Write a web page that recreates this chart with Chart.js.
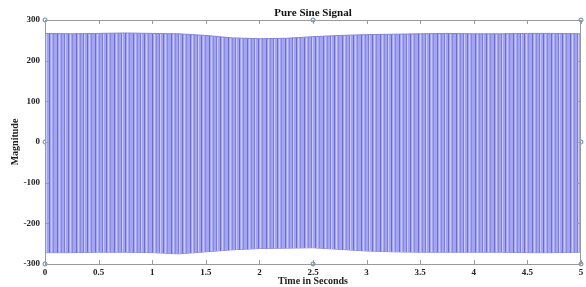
<!DOCTYPE html>
<html>
<head>
  <meta charset="UTF-8">
  <title>Pure Sine Signal</title>
  <script src="https://cdn.jsdelivr.net/npm/chart.js"></script>
  <style>
    body { margin: 0; background: #fff; }
    #wrap { width: 586px; height: 287px; }
  </style>
</head>
<body>
  <div id="wrap"><canvas id="sig"></canvas></div>
  <script>
    // envelope of the dense sine, every 0.25 s
    const timeSec = [0, 0.25, 0.5, 0.75, 1, 1.25, 1.5, 1.75, 2, 2.25, 2.5,
                     2.75, 3, 3.25, 3.5, 3.75, 4, 4.25, 4.5, 4.75, 5];
    const upperPeak = [267, 266, 267, 268, 267, 266, 262, 256, 254, 255, 259,
                       262, 264, 265, 266, 267, 266, 266, 267, 267, 266];
    const lowerPeak = [-272, -272, -271, -271, -272, -275, -270, -265, -262, -261, -260,
                       -264, -268, -270, -271, -271, -271, -271, -272, -272, -271];
    const xTicks = ['0', '0.5', '1', '1.5', '2', '2.5', '3', '3.5', '4', '4.5', '5'];
    const yTicks = ['-300', '-200', '-100', '0', '100', '200', '300'];
    const chartTitle = 'Pure Sine Signal';
    // little selection handles on the axes box
    const handleX = [0, 2.5, 5, 0, 5, 0, 2.5, 5];
    const handleY = [300, 300, 300, 0, 0, -300, -300, -300];

    // striped fill to mimic the aliased oscillation (uneven spacing on purpose)
    function stripes() {
      const c = document.createElement('canvas');
      c.width = 19; c.height = 1;
      const g = c.getContext('2d');
      g.fillStyle = '#a4a4f4'; g.fillRect(0, 0, 19, 1);
      g.fillStyle = '#6e6ec6'; g.fillRect(0, 0, 1, 1); g.fillRect(11, 0, 1, 1);
      g.fillStyle = '#8a8adc'; g.fillRect(4, 0, 1, 1); g.fillRect(15, 0, 1, 1);
      g.fillStyle = '#cacafc'; g.fillRect(2, 0, 1, 1); g.fillRect(8, 0, 1, 1); g.fillRect(13, 0, 1, 1);
      g.fillStyle = '#7c7cd2'; g.fillRect(7, 0, 1, 1);
      return g.createPattern(c, 'repeat');
    }

    const serif = '"Liberation Serif", "Times New Roman", serif';

    // box around the axes with inward ticks, title centred on the axes
    const boxPlugin = {
      id: 'box',
      afterDatasetsDraw(chart) {
        const { ctx, chartArea: a, scales: { x, y } } = chart;
        ctx.save();
        ctx.strokeStyle = '#9a9a9a';
        ctx.lineWidth = 1;
        ctx.strokeRect(a.left + 0.5, a.top + 0.5, a.right - a.left - 1, a.bottom - a.top);
        ctx.beginPath();
        xTicks.forEach(t => {
          const px = Math.round(x.getPixelForValue(+t)) + 0.5;
          ctx.moveTo(px, a.bottom); ctx.lineTo(px, a.bottom - 4);
          ctx.moveTo(px, a.top); ctx.lineTo(px, a.top + 4);
        });
        yTicks.forEach(t => {
          const py = Math.round(y.getPixelForValue(+t)) + 0.5;
          ctx.moveTo(a.left, py); ctx.lineTo(a.left + 4, py);
          ctx.moveTo(a.right, py); ctx.lineTo(a.right - 4, py);
        });
        ctx.stroke();
        ctx.fillStyle = '#111';
        ctx.font = 'bold 11px ' + serif;
        ctx.textAlign = 'center';
        ctx.textBaseline = 'middle';
        ctx.fillText(chartTitle, (a.left + a.right) / 2, 13);
        ctx.restore();
      }
    };

    new Chart(document.getElementById('sig'), {
      type: 'line',
      data: {
        datasets: [
          {
            data: timeSec.map((t, i) => ({ x: t, y: upperPeak[i] })),
            borderColor: '#8282d8', borderWidth: 1, pointRadius: 0,
            backgroundColor: stripes(), fill: '+1', tension: 0
          },
          {
            data: timeSec.map((t, i) => ({ x: t, y: lowerPeak[i] })),
            borderColor: '#8282d8', borderWidth: 1, pointRadius: 0, fill: false, tension: 0
          },
          {
            type: 'scatter',
            data: handleX.map((t, i) => ({ x: t, y: handleY[i] })),
            pointRadius: 2, pointBorderWidth: 1,
            pointBorderColor: '#4a86b8', pointBackgroundColor: '#ffffff',
            showLine: false, clip: false
          }
        ]
      },
      options: {
        responsive: true,
        maintainAspectRatio: false,
        animation: false,
        layout: { padding: { left: 0, right: 3, top: 20, bottom: 0 } },
        plugins: {
          legend: { display: false },
          tooltip: { enabled: false },
          title: { display: false }
        },
        scales: {
          x: {
            type: 'linear', min: 0, max: 5,
            afterBuildTicks: s => { s.ticks = xTicks.map(v => ({ value: +v })); },
            afterFit: s => { s.paddingRight = 0; s.paddingLeft = 0; s.height = 23; },
            grid: { display: false, drawTicks: false },
            border: { display: false },
            ticks: {
              padding: 3, color: '#222', maxRotation: 0,
              callback: (v, i) => xTicks[i],
              font: { family: serif, size: 9, weight: 'bold' }
            },
            title: {
              display: true, text: 'Time in Seconds', color: '#222',
              font: { family: serif, size: 10, weight: 'bold' },
              padding: { top: 0, bottom: 0 }
            }
          },
          y: {
            min: -300, max: 300,
            afterBuildTicks: s => { s.ticks = yTicks.map(v => ({ value: +v })); },
            afterFit: s => { s.width = 45; },
            grid: { display: false, drawTicks: false },
            border: { display: false },
            ticks: {
              padding: 5, color: '#222',
              callback: (v, i) => yTicks[i],
              font: { family: serif, size: 9, weight: 'bold' }
            },
            title: {
              display: true, text: 'Magnitude', color: '#222',
              font: { family: serif, size: 10, weight: 'bold' },
              padding: { top: 9, bottom: 0 }
            }
          }
        }
      },
      plugins: [boxPlugin]
    });
  </script>
</body>
</html>
